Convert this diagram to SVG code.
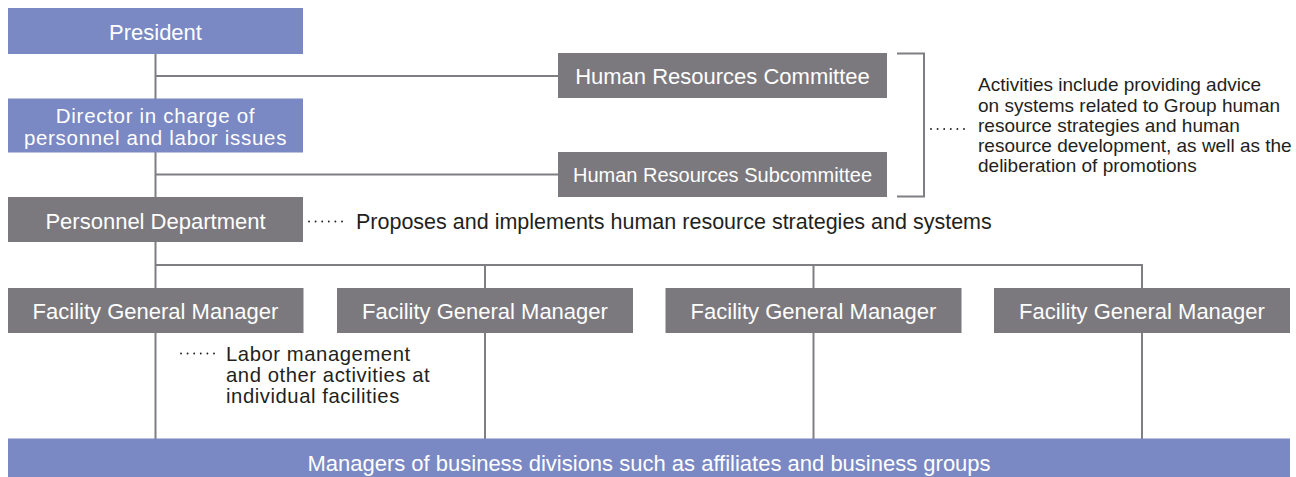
<svg xmlns="http://www.w3.org/2000/svg" width="1296" height="477" viewBox="0 0 1296 477">
  <style>
    .blue { fill: #7a88c3; }
    .gray { fill: #7b797e; }
    .lbl { font-family: "Liberation Sans", Arial, Helvetica, sans-serif; font-size: 22px; fill: #ffffff; text-anchor: middle; }
    .lbl2 { font-family: "Liberation Sans", Arial, Helvetica, sans-serif; font-size: 20.5px; letter-spacing: 0.7px; fill: #ffffff; text-anchor: middle; }
    .note { font-family: "Liberation Sans", Arial, Helvetica, sans-serif; font-size: 21.5px; fill: #231f20; }
    .note2 { font-family: "Liberation Sans", Arial, Helvetica, sans-serif; font-size: 20.3px; letter-spacing: 0.55px; fill: #231f20; }
    .note-sm { font-family: "Liberation Sans", Arial, Helvetica, sans-serif; font-size: 19px; fill: #231f20; }
    .wire { stroke: #7f7f83; stroke-width: 2; fill: none; }
    .dots { stroke: #231f20; stroke-width: 1.9; stroke-linecap: round; stroke-dasharray: 0 6.6; fill: none; }
  </style>

  <rect width="1296" height="477" fill="#ffffff"/>

  <!-- connectors -->
  <g id="connectors">
    <!-- main spine from President down to the bottom bar -->
    <line class="wire" x1="155.5" y1="53" x2="155.5" y2="439"/>
    <!-- committee branches -->
    <line class="wire" x1="155.5" y1="76" x2="559" y2="76"/>
    <line class="wire" x1="155.5" y1="174.5" x2="559" y2="174.5"/>
    <!-- bracket grouping both committees -->
    <path class="wire" d="M897 53.5 H924 V196.5 H897"/>
    <!-- facility bus -->
    <line class="wire" x1="155.5" y1="265" x2="1143" y2="265"/>
    <line class="wire" x1="485" y1="264" x2="485" y2="439"/>
    <line class="wire" x1="813.5" y1="264" x2="813.5" y2="439"/>
    <line class="wire" x1="1142" y1="264" x2="1142" y2="439"/>
  </g>

  <!-- dotted leaders before the notes -->
  <g id="leaders">
    <line class="dots" x1="309" y1="221.5" x2="342" y2="221.5"/>
    <line class="dots" x1="931" y1="129" x2="964" y2="129"/>
    <line class="dots" x1="181" y1="353.5" x2="214" y2="353.5"/>
  </g>

  <g id="president">
    <rect class="blue" x="8" y="8" width="295" height="46"/>
    <text class="lbl" x="155.5" y="40">President</text>
  </g>

  <g id="director">
    <rect class="blue" x="8" y="98.5" width="295" height="54"/>
    <text class="lbl2" x="155.5" y="122.5">Director in charge of</text>
    <text class="lbl2" x="155.5" y="145">personnel and labor issues</text>
  </g>

  <g id="personnel">
    <rect class="gray" x="8" y="197" width="295" height="45"/>
    <text class="lbl" x="155.5" y="228.5">Personnel Department</text>
  </g>

  <g id="personnel-note">
    <text class="note" x="356" y="229">Proposes and implements human resource strategies and systems</text>
  </g>

  <g id="hr-committee">
    <rect class="gray" x="558" y="53" width="329" height="45"/>
    <text class="lbl" x="722.5" y="84">Human Resources Committee</text>
  </g>

  <g id="hr-subcommittee">
    <rect class="gray" x="558" y="152" width="329" height="45"/>
    <text class="lbl" x="722.5" y="182" style="font-size:20px">Human Resources Subcommittee</text>
  </g>

  <g id="committee-note">
    <text class="note-sm" x="978" y="91">Activities include providing advice</text>
    <text class="note-sm" x="978" y="111.5">on systems related to Group human</text>
    <text class="note-sm" x="978" y="132">resource strategies and human</text>
    <text class="note-sm" x="978" y="152">resource development, as well as the</text>
    <text class="note-sm" x="978" y="172">deliberation of promotions</text>
  </g>

  <g id="facility-1">
    <rect class="gray" x="8" y="288" width="295.5" height="45"/>
    <text class="lbl" x="155.5" y="318.5">Facility General Manager</text>
  </g>

  <g id="facility-2">
    <rect class="gray" x="337" y="288" width="296" height="45"/>
    <text class="lbl" x="485" y="318.5">Facility General Manager</text>
  </g>

  <g id="facility-3">
    <rect class="gray" x="665.5" y="288" width="296" height="45"/>
    <text class="lbl" x="813.5" y="318.5">Facility General Manager</text>
  </g>

  <g id="facility-4">
    <rect class="gray" x="994" y="288" width="296" height="45"/>
    <text class="lbl" x="1142" y="318.5">Facility General Manager</text>
  </g>

  <g id="facility-note">
    <text class="note2" x="226" y="360.5">Labor management</text>
    <text class="note2" x="226" y="381.5">and other activities at</text>
    <text class="note2" x="226" y="402.5">individual facilities</text>
  </g>

  <g id="business-managers">
    <rect class="blue" x="8" y="438.5" width="1282" height="40"/>
    <text class="lbl" x="649" y="471">Managers of business divisions such as affiliates and business groups</text>
  </g>
</svg>
